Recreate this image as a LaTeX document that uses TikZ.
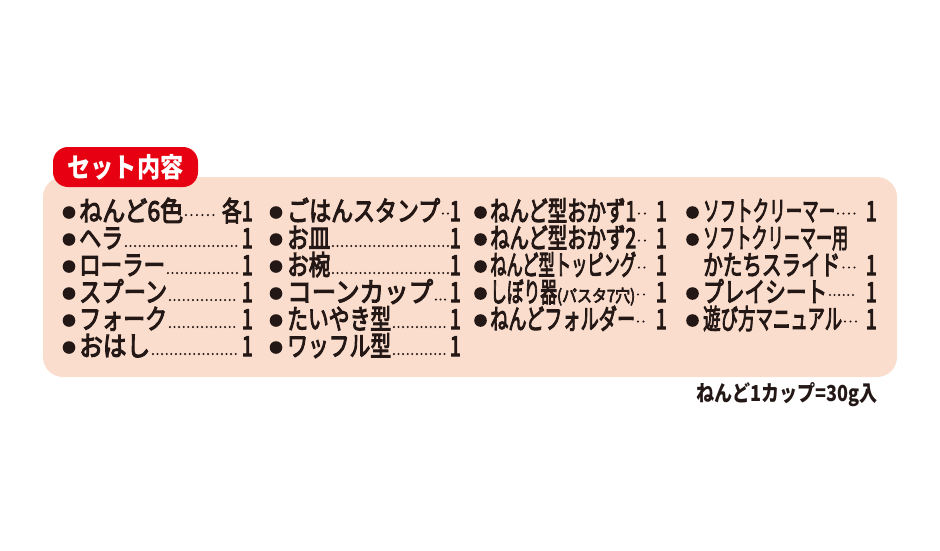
\documentclass[tikz,border=0pt]{standalone}
\usepackage{fontspec}
\usepackage{graphicx}
\setmainfont{Noto Sans CJK JP}
\newfontfamily\jpmid[FakeBold=4]{Noto Sans CJK JP}

\definecolor{boxpink}{RGB}{250,221,205}
\definecolor{tabred}{RGB}{230,0,18}
\definecolor{inkbrown}{RGB}{35,24,21}

\newcommand\paren[1]{{\fontsize{17}{17}\selectfont #1}}

\tikzset{
item/.style={anchor=base west, inner sep=0pt, text=inkbrown, font=\fontsize{27.5}{30}\jpmid},
count/.style={anchor=base east, inner sep=0pt, text=inkbrown, font=\fontsize{27.5}{30}\jpmid},
leader/.style={inkbrown, line width=2.3pt, line cap=round}
}

\begin{document}
\begin{tikzpicture}[x=1pt,y=-1pt,color=inkbrown]

\useasboundingbox (0,0) rectangle (940,550);

\node (box) at (470,277)[fill=boxpink, rounded corners=20pt, minimum width=854pt, minimum height=200pt]{};

\node (tab) at (125.5,167)[fill=tabred, rounded corners=15pt, minimum width=145pt, minimum height=40pt, text=white, font=\fontsize{27}{27}\selectfont\bfseries]{\resizebox{116pt}{\height}{セット内容}};

\def\bulletx{{69,276,480.5,692.5}}
\def\textx{{79,287,490,703}}
\def\rightx{{253,461,667,877}}
\def\gapx{{3,1,8,9}}

% col/row/width/text/count/dot height/dot step
\foreach \c/\r/\w/\txt/\num/\dy/\ds in {
1/1/104/{ねんど6色}/{各1}/6/5.5, 1/2/44/{ヘラ}/1/2/4.6, 1/3/86/{ローラー}/1/2/4.6,
1/4/88/{スプーン}/1/2/4.6, 1/5/88/{フォーク}/1/2/4.6, 1/6/71/{おはし}/1/2/4.6,
2/1/153/{ごはんスタンプ}/1/7.5/5, 2/2/43/{お皿}/1/2/4.6, 2/3/43/{お椀}/1/2/4.6,
2/4/146/{コーンカップ}/1/2.5/4.6, 2/5/104/{たいやき型}/1/2/4.6, 2/6/104/{ワッフル型}/1/2/4.6,
3/1/146/{ねんど型おかず1}/1/7.5/6, 3/2/146/{ねんど型おかず2}/1/7.5/6, 3/3/146/{ねんど型トッピング}/1/7.5/5.5,
3/4/145/{\resizebox{76pt}{\height}{しぼり器}\paren{(パスタ7穴)}}/1/7.5/6, 3/5/145/{ねんどフォルダー}/1/7.5/5.5,
4/1/132/{ソフトクリーマー}/1/7.5/5.5, 4/4/124/{プレイシート}/1/7/4.6, 4/5/139/{遊び方マニュアル}/1/7.5/5.5}
{
\pgfmathsetmacro\bx{\bulletx[\c-1]}
\pgfmathsetmacro\tx{\textx[\c-1]}
\pgfmathsetmacro\rx{\rightx[\c-1]}
\pgfmathsetmacro\gap{\gapx[\c-1]}
\pgfmathsetmacro\by{221+27*(\r-1)}
\fill (\bx,\by-8.5) circle (6.3pt);
\node (t\c\r) at (\tx,\by)[item]{\resizebox{\w pt}{\height}{\txt}};
\node (n\c\r) at (\rx,\by)[count]{\scalebox{0.72}[1]{\num}};
\draw[leader, dash pattern=on 0pt off \ds pt, shorten >=\gap pt] ([xshift=2.5pt,yshift=\dy pt]t\c\r.base east) -- ([yshift=\dy pt]n\c\r.base west);
}

% two-line entry
\fill (692.5,239.5) circle (6.3pt);
\node (t42) at (703,248)[item]{\resizebox{145pt}{\height}{ソフトクリーマー用}};

\node (t43) at (703,275)[item]{\resizebox{137pt}{\height}{かたちスライド}};
\node (n43) at (877,275)[count]{\scalebox{0.72}[1]{1}};
\draw[leader, dash pattern=on 0pt off 5.5pt, shorten >=9pt] ([xshift=3pt,yshift=7.5pt]t43.base east) -- ([yshift=7.5pt]n43.base west);

\node (note) at (878,401.5)[anchor=base east, inner sep=0pt, font=\fontsize{22}{22}\selectfont\bfseries]{\resizebox{181pt}{\height}{ねんど1カップ=30g入}};

\end{tikzpicture}
\end{document}
